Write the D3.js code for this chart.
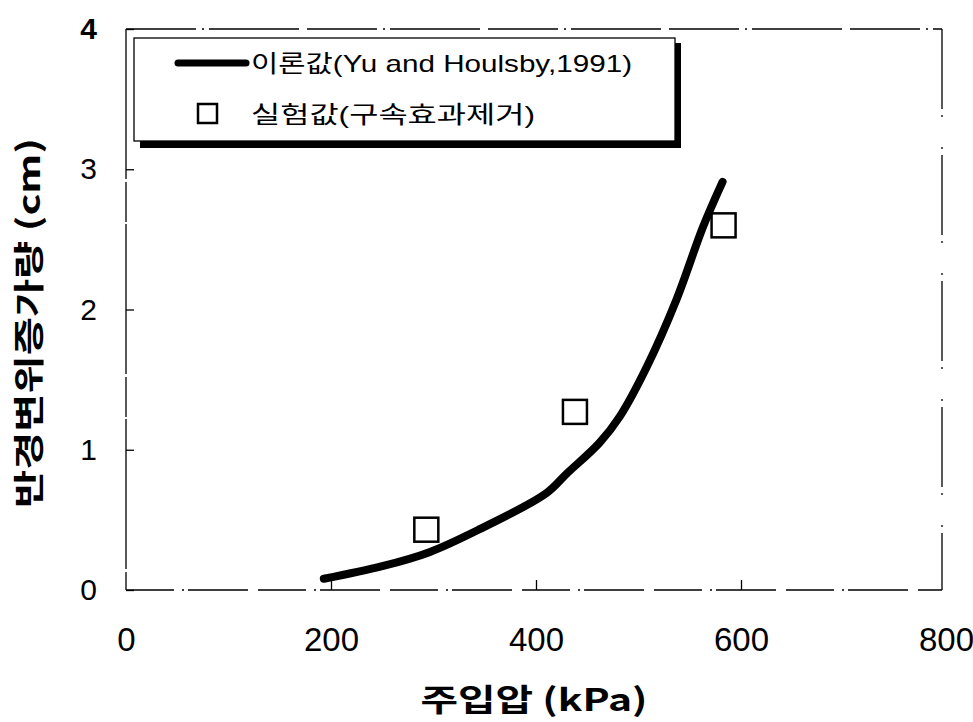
<!DOCTYPE html>
<html>
<head>
  <meta charset="utf-8" />
  <title>주입압 - 반경변위증가량</title>
  <style>
    body { margin: 0; background: #fff; }
    svg text { fill: #000; }
    .tick-x { font-family: "Liberation Sans", Arial, sans-serif; font-size: 33px; }
    .tick-y { font-family: "Liberation Sans", Arial, sans-serif; font-size: 30px; }
    .title { font-family: "Noto Sans CJK KR", sans-serif; font-weight: bold; font-size: 31px; }
    .legend { font-family: "Liberation Sans", "Noto Sans CJK KR", sans-serif; font-size: 24px; }
  </style>
</head>
<body>
  <svg id="chart" width="973" height="722"></svg>
  <script src="https://cdn.jsdelivr.net/npm/d3@7"></script>
  <script>
    // theory curve (Yu and Houlsby, 1991)
    var theoryP = [193, 250, 296, 344, 410, 430, 462, 482, 508, 537, 563, 582];
    var theoryD = [0.08, 0.17, 0.27, 0.43, 0.69, 0.83, 1.05, 1.24, 1.59, 2.07, 2.59, 2.91];

    // test values
    var testP = [293, 438, 583];
    var testD = [0.43, 1.27, 2.6];

    var xTicks = [0, 200, 400, 600, 800];
    var yTicks = [0, 1, 2, 3, 4];

    var svg = d3.select('#chart');
    var plotL = 126, plotR = 946, plotT = 29, plotB = 590;
    var frameR = 942;

    var x = d3.scaleLinear().domain([0, 800]).range([plotL, plotR]);
    var y = d3.scaleLinear().domain([0, 4]).range([plotB, plotT]);

    // frame (scanned look: broken lines)
    svg.append('line').attr('x1', plotL).attr('x2', plotL).attr('y1', plotT).attr('y2', plotB)
      .attr('stroke', '#000').attr('stroke-width', 1.3).attr('stroke-dasharray', '150,3,40,2');
    svg.append('line').attr('x1', plotL).attr('x2', frameR).attr('y1', plotB).attr('y2', plotB)
      .attr('stroke', '#000').attr('stroke-width', 1.3).attr('stroke-dasharray', '48,8,2,4,60,10');
    svg.append('line').attr('x1', plotL).attr('x2', frameR).attr('y1', plotT).attr('y2', plotT)
      .attr('stroke', '#000').attr('stroke-width', 1.3).attr('stroke-dasharray', '70,6,2,5,90,8');
    svg.append('line').attr('x1', frameR).attr('x2', frameR).attr('y1', plotT).attr('y2', plotB)
      .attr('stroke', '#000').attr('stroke-width', 1.3).attr('stroke-dasharray', '80,6,2,30,2,6');

    // ticks pointing inward
    var xAxis = svg.append('g').attr('transform', 'translate(0,' + plotB + ')')
      .call(d3.axisBottom(x).tickValues(xTicks).tickSize(-10).tickPadding(38).tickFormat(d3.format('d')));
    xAxis.select('.domain').remove();
    xAxis.selectAll('text').attr('class', 'tick-x').attr('dy', '0.71em');
    xAxis.selectAll('line').attr('stroke-width', 1.3)
      .attr('display', function (d) { return d === 0 || d === 800 ? 'none' : null; });

    var yAxis = svg.append('g').attr('transform', 'translate(' + plotL + ',0)')
      .call(d3.axisLeft(y).tickValues(yTicks).tickSize(-8).tickPadding(29).tickFormat(d3.format('d')));
    yAxis.select('.domain').remove();
    yAxis.selectAll('text').attr('class', 'tick-y')
      .attr('font-weight', function (d) { return d === 4 ? 'bold' : null; });
    yAxis.selectAll('line').attr('stroke-width', 1.3);

    // theory line
    var line = d3.line().x(function (d, i) { return x(theoryP[i]); }).y(function (d) { return y(d); })
      .curve(d3.curveCatmullRom.alpha(0.5));
    svg.append('path').datum(theoryD).attr('d', line)
      .attr('fill', 'none').attr('stroke', '#000').attr('stroke-width', 8)
      .attr('stroke-linecap', 'round').attr('stroke-linejoin', 'round');

    // test squares
    var sq = 24;
    svg.selectAll('rect.pt').data(testD).enter().append('rect').attr('class', 'pt')
      .attr('x', function (d, i) { return x(testP[i]) - sq / 2; })
      .attr('y', function (d) { return y(d) - sq / 2; })
      .attr('width', sq).attr('height', sq)
      .attr('fill', 'none').attr('stroke', '#000').attr('stroke-width', 2.5);

    // legend with heavy shadow on right and bottom
    var lg = svg.append('g');
    lg.append('rect').attr('x', 140).attr('y', 43).attr('width', 541).attr('height', 105).attr('fill', '#000');
    lg.append('rect').attr('x', 134).attr('y', 38).attr('width', 541).attr('height', 103)
      .attr('fill', '#fff').attr('stroke', '#000').attr('stroke-width', 1.3);
    lg.append('line').attr('x1', 178).attr('x2', 246).attr('y1', 63).attr('y2', 63)
      .attr('stroke', '#000').attr('stroke-width', 7).attr('stroke-linecap', 'round');
    lg.append('text').attr('class', 'legend').attr('x', 251).attr('y', 72)
      .attr('textLength', 381).attr('lengthAdjust', 'spacingAndGlyphs')
      .text('이론값(Yu and Houlsby,1991)');
    lg.append('rect').attr('x', 198).attr('y', 104).attr('width', 19).attr('height', 19)
      .attr('fill', 'none').attr('stroke', '#000').attr('stroke-width', 2.5);
    lg.append('text').attr('class', 'legend').attr('x', 251).attr('y', 123)
      .attr('textLength', 284).attr('lengthAdjust', 'spacingAndGlyphs')
      .text('실험값(구속효과제거)');

    // axis titles
    svg.append('text').attr('class', 'title').attr('text-anchor', 'middle')
      .attr('x', 534).attr('y', 711)
      .attr('textLength', 227).attr('lengthAdjust', 'spacingAndGlyphs')
      .text('주입압 (kPa)');
    svg.append('text').attr('class', 'title').attr('text-anchor', 'middle')
      .attr('transform', 'translate(40,323) rotate(-90)')
      .attr('textLength', 370).attr('lengthAdjust', 'spacingAndGlyphs')
      .text('반경변위증가량 (cm)');
  </script>
</body>
</html>
